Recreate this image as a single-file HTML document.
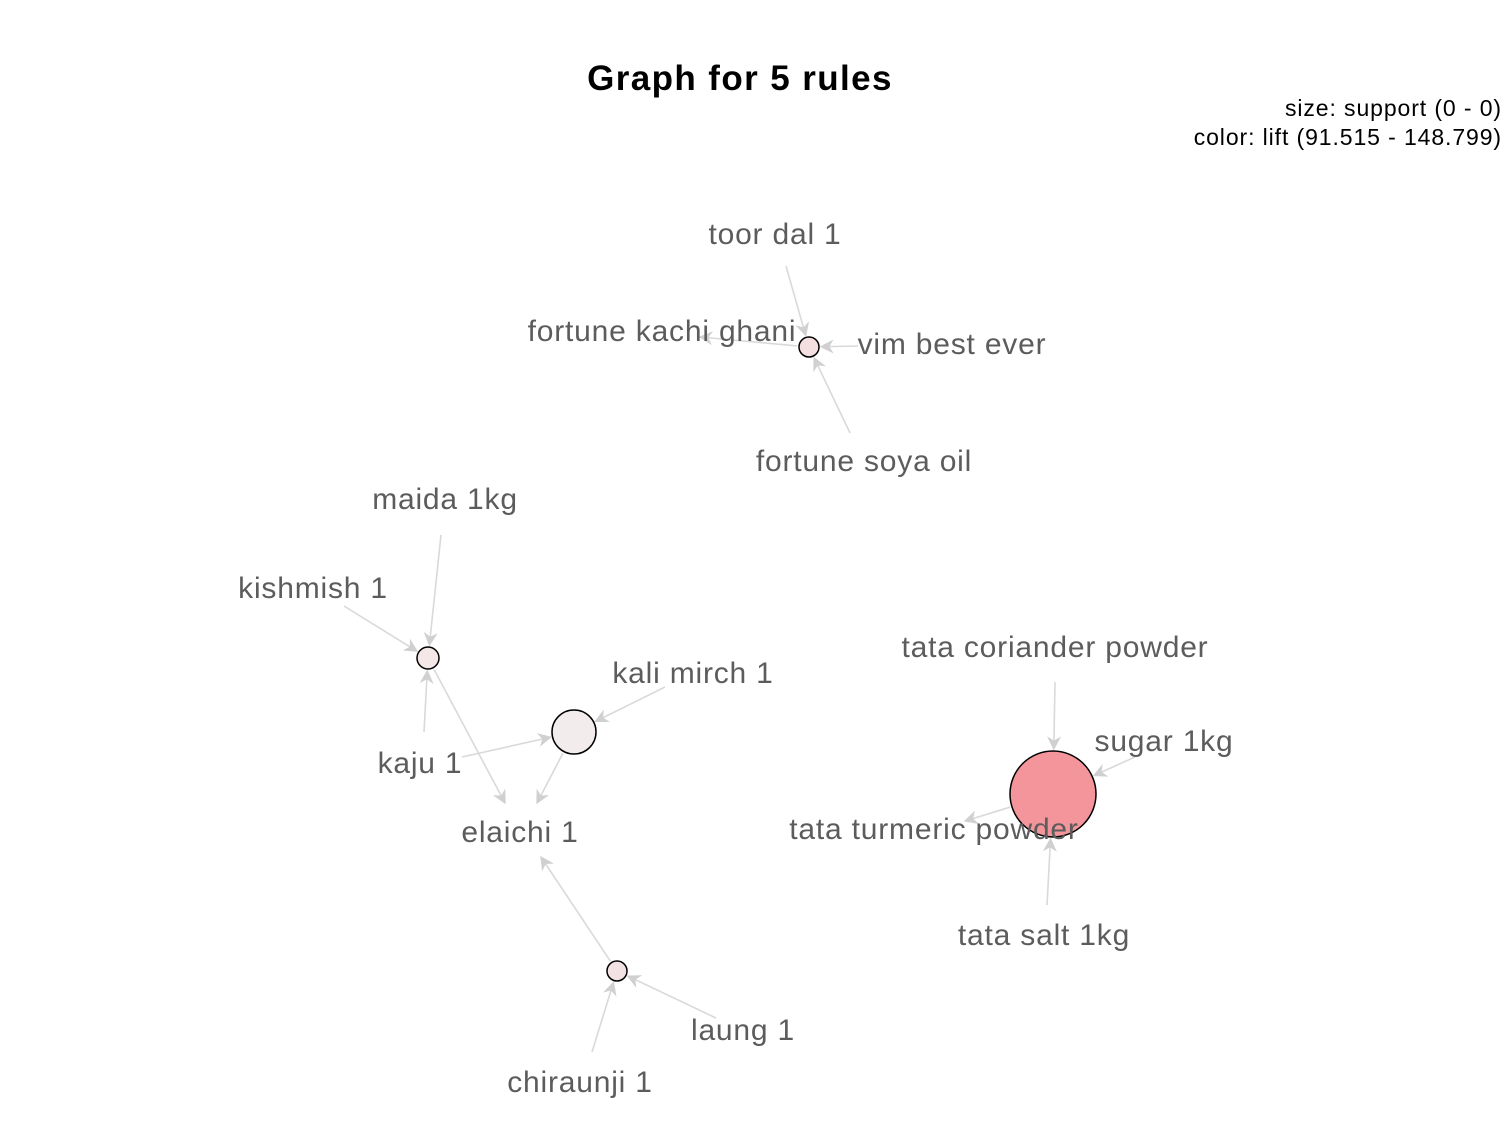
<!DOCTYPE html>
<html><head><meta charset="utf-8"><style>
html,body{margin:0;padding:0;background:#fff;}
svg{display:block;}
text{font-family:"Liberation Sans",Arial,sans-serif;}
</style></head><body>
<svg id="chart" width="1502" height="1138" viewBox="0 0 1502 1138" xmlns="http://www.w3.org/2000/svg">
<defs>
<marker id="arr" viewBox="0 0 10 10" refX="9" refY="5" markerWidth="14" markerHeight="14" markerUnits="userSpaceOnUse" orient="auto">
<path d="M0,0 L10,5 L0,10 L3,5 Z" fill="#d0d0d0"/>
</marker>
</defs>
<text x="740" y="90" text-anchor="middle" font-size="35" letter-spacing="1.4" font-weight="bold" fill="#000">Graph for 5 rules</text>
<text x="1502" y="116" text-anchor="end" font-size="23" letter-spacing="0.9" fill="#000">size: support (0 - 0)</text>
<text x="1502" y="145" text-anchor="end" font-size="23" letter-spacing="0.9" fill="#000">color: lift (91.515 - 148.799)</text>
<g id="edges"></g>
<g id="nodes"></g>
<g id="labels"></g>
</svg>
<script>
// rule nodes: positions, radius (support), lift
const ruleNames = ['rule-1','rule-2','rule-3','rule-4','rule-5'];
const ruleX = [809, 428, 574, 1053, 617];
const ruleY = [347, 658, 732, 794, 971];
const ruleR = [10, 11, 22, 43, 10];
const ruleLift = [100, 95, 91.515, 148.799, 98];
// item labels
const itemNames = ['toor dal 1','fortune kachi ghani','vim best ever','fortune soya oil','maida 1kg','kishmish 1','kali mirch 1','kaju 1','elaichi 1','tata coriander powder','sugar 1kg','tata turmeric powder','tata salt 1kg','laung 1','chiraunji 1'];
const itemX = [775, 662, 952, 864, 445, 313, 693, 420, 520, 1055, 1164, 934, 1044, 743, 580];
const itemY = [244, 341, 354, 471, 509, 598, 683, 773, 842, 657, 751, 839, 945, 1040, 1092];
// edges: item anchor point, rule index, direction (1 = item->rule, -1 = rule->item)
const edgeItem = [0,1,2,3,4,5,7,8,6,7,8,9,10,11,12,8,13,14];
const edgeRule = [0,0,0,0,1,1,1,1,2,2,2,3,3,3,3,4,4,4];
const edgeDir  = [1,-1,1,1,1,1,1,-1,1,1,-1,1,1,-1,1,-1,1,1];
const edgeAX = [786,700,858,850,441,344,424,505,665,462,537,1055,1135,965,1047,541,716,592];
const edgeAY = [266,337,346,433,535,606,732,803,687,757,803,682,757,821,905,857,1018,1052];

const NS='http://www.w3.org/2000/svg';
const eg=document.getElementById('edges'), ng=document.getElementById('nodes'), lg=document.getElementById('labels');
function liftColor(l){
  const t=(l-91.515)/(148.799-91.515);
  const r=Math.round(243+(244-243)*t), g=Math.round(236+(149-236)*t), b=Math.round(236+(156-236)*t);
  return `rgb(${r},${g},${b})`;
}
for(let i=0;i<edgeItem.length;i++){
  const ri=edgeRule[i];
  const cx=ruleX[ri], cy=ruleY[ri], r=ruleR[ri];
  const ax=edgeAX[i], ay=edgeAY[i];
  const dx=ax-cx, dy=ay-cy, d=Math.hypot(dx,dy);
  const ex=cx+dx/d*(r+2), ey=cy+dy/d*(r+2);
  const line=document.createElementNS(NS,'line');
  
  
  if(edgeDir[i]===1){line.setAttribute('x1',ax);line.setAttribute('y1',ay);line.setAttribute('x2',ex);line.setAttribute('y2',ey);}
  else{line.setAttribute('x1',ex);line.setAttribute('y1',ey);line.setAttribute('x2',ax);line.setAttribute('y2',ay);}
  line.setAttribute('stroke','#d9d9d9');line.setAttribute('stroke-width','1.6');
  line.setAttribute('marker-end','url(#arr)');
  eg.appendChild(line);
}
for(let i=0;i<ruleX.length;i++){
  const c=document.createElementNS(NS,'circle');
  
  
  c.setAttribute('cx',ruleX[i]);c.setAttribute('cy',ruleY[i]);c.setAttribute('r',ruleR[i]);
  c.setAttribute('fill',liftColor(ruleLift[i]));c.setAttribute('stroke','#000');c.setAttribute('stroke-width','1.5');
  ng.appendChild(c);
}
for(let i=0;i<itemNames.length;i++){
  const t=document.createElementNS(NS,'text');
  
  
  t.setAttribute('x',itemX[i]);t.setAttribute('y',itemY[i]);
  t.setAttribute('text-anchor','middle');t.setAttribute('font-size','30');t.setAttribute('letter-spacing','0.8');t.setAttribute('fill','#5c5c5c');
  t.textContent=itemNames[i];
  lg.appendChild(t);
}
</script>
</body></html>
